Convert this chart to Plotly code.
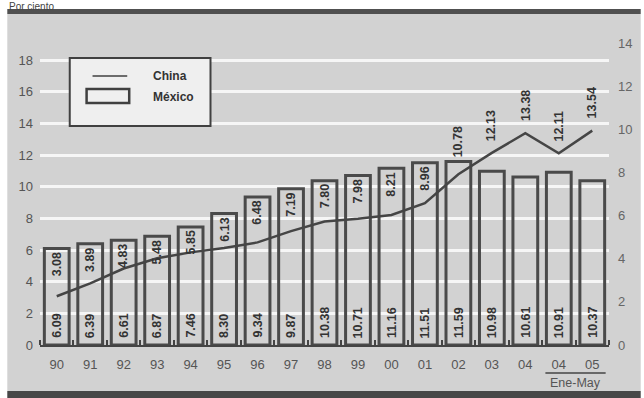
import plotly.graph_objects as go

# ---- data ----
years = ["90", "91", "92", "93", "94", "95", "96", "97", "98", "99",
         "00", "01", "02", "03", "04", "04", "05"]
mexico = [6.09, 6.39, 6.61, 6.87, 7.46, 8.30, 9.34, 9.87, 10.38, 10.71,
          11.16, 11.51, 11.59, 10.98, 10.61, 10.91, 10.37]
china = [3.08, 3.89, 4.83, 5.48, 5.85, 6.13, 6.48, 7.19, 7.80, 7.98,
         8.21, 8.96, 10.78, 12.13, 13.38, 12.11, 13.54]
left_ticks = [0, 2, 4, 6, 8, 10, 12, 14, 16, 18]
right_ticks = [0, 2, 4, 6, 8, 10, 12, 14]
period_label = "Ene-May"

W, H = 644, 398
L, R, T, B = 40, 30, 43, 53
PW, PH = W - L - R, H - T - B


def px(x):
    return (x - L) / PW


def py(y):
    return (H - B - y) / PH


NARROW = "Liberation Sans Narrow, Arial Narrow, Liberation Sans, Arial, sans-serif"
BOLD = "Liberation Sans, Arial, sans-serif"
BG = "#d2d2d2"
DARK = "#474747"

xs = list(range(len(years)))
boundaries = [i - 0.5 for i in range(len(years) + 1)]

fig = go.Figure()
fig.add_trace(go.Bar(
    x=xs, y=mexico, width=0.74,
    marker=dict(color="rgba(0,0,0,0)", line=dict(color="#4a4a4a", width=3)),
    showlegend=False, hoverinfo="skip"))
fig.add_trace(go.Scatter(
    x=xs, y=china, mode="lines",
    line=dict(color="#454545", width=2.5),
    showlegend=False, hoverinfo="skip"))
# invisible trace to activate right axis
fig.add_trace(go.Scatter(x=[0], y=[0], yaxis="y2", mode="markers",
                         marker=dict(opacity=0), showlegend=False,
                         hoverinfo="skip"))

annotations = []
shapes = []

# value labels
for i, (m, c) in enumerate(zip(mexico, china)):
    annotations.append(dict(
        x=i, y=0, xref="x", yref="y", text="<b>%.2f</b>" % m,
        textangle=-90, showarrow=False, yanchor="bottom", yshift=5,
        font=dict(family=BOLD, size=12.5, color="#333333")))
    if c > m:
        ya, yv, ys = "bottom", c, 10
    elif m - c < 1.0:
        ya, yv, ys = "bottom", m, 2
    else:
        ya, yv, ys = "top", m, -2
    annotations.append(dict(
        x=i, y=yv, xref="x", yref="y", text="<b>%.2f</b>" % c,
        textangle=-90, showarrow=False, yanchor=ya, yshift=ys,
        font=dict(family=BOLD, size=12.5, color="#333333")))

# background panels
shapes.append(dict(type="rect", xref="paper", yref="paper", layer="below",
                   x0=px(7), x1=px(W + 2), y0=py(14), y1=py(391),
                   fillcolor=BG, line=dict(width=0)))
shapes.append(dict(type="rect", xref="paper", yref="paper", layer="below",
                   x0=px(7), x1=px(W + 2), y0=py(9), y1=py(14),
                   fillcolor="#505050", line=dict(width=0)))
shapes.append(dict(type="rect", xref="paper", yref="paper", layer="below",
                   x0=px(7), x1=px(W + 2), y0=py(391), y1=py(H + 2),
                   fillcolor=DARK, line=dict(width=0)))

# legend box
shapes.append(dict(type="rect", xref="paper", yref="paper",
                   x0=px(70), x1=px(212), y0=py(58), y1=py(126),
                   fillcolor="#efefef", line=dict(color="#404040", width=2)))
shapes.append(dict(type="line", xref="paper", yref="paper",
                   x0=px(93), x1=px(128), y0=py(76), y1=py(76),
                   line=dict(color="#404040", width=1.5)))
shapes.append(dict(type="rect", xref="paper", yref="paper",
                   x0=px(87), x1=px(130), y0=py(89), y1=py(103),
                   fillcolor="rgba(0,0,0,0)", line=dict(color="#404040", width=2.5)))
annotations.append(dict(x=px(152), y=py(76), xref="paper", yref="paper",
                        text="<b>China</b>", showarrow=False, xanchor="left",
                        yanchor="middle",
                        font=dict(family=BOLD, size=12, color="#333333")))
annotations.append(dict(x=px(152), y=py(97), xref="paper", yref="paper",
                        text="<b>México</b>", showarrow=False, xanchor="left",
                        yanchor="middle",
                        font=dict(family=BOLD, size=12, color="#333333")))

# Ene-May bracket
shapes.append(dict(type="line", xref="x", yref="paper",
                   x0=len(years) - 2.4, x1=len(years) - 0.6,
                   y0=py(373), y1=py(373),
                   line=dict(color="#444444", width=1.5)))
annotations.append(dict(x=len(years) - 1.5, y=py(383), xref="x", yref="paper",
                        text=period_label, showarrow=False, yanchor="middle",
                        font=dict(family=NARROW, size=12.5, color="#555555")))

# header
annotations.append(dict(x=px(7), y=py(-1), xref="paper", yref="paper",
                        text="Por ciento", showarrow=False, xanchor="left",
                        yanchor="top", font=dict(family=NARROW, size=10,
                                                 color="#444444")))

fig.update_layout(
    width=W, height=H,
    margin=dict(l=L, r=R, t=T, b=B, pad=0),
    paper_bgcolor="white", plot_bgcolor="rgba(0,0,0,0)",
    xaxis=dict(range=[-0.5, len(years) - 0.5], tickmode="array",
               tickvals=xs, ticktext=years, ticks="",
               minor=dict(tickmode="array", tickvals=boundaries,
                          ticks="inside", ticklen=5, tickwidth=1.5,
                          tickcolor="#444444", showgrid=False),
               showline=True, linecolor="#444444", linewidth=2,
               showgrid=False, zeroline=False,
               tickfont=dict(family=NARROW, size=13, color="#555555"),
               ticklabelstandoff=6),
    yaxis=dict(range=[0, PH / (285 / 18)], tickmode="array",
               tickvals=left_ticks, showgrid=True,
               gridcolor="rgba(255,255,255,0.8)", gridwidth=2.5,
               zeroline=False, showline=False, ticks="",
               tickfont=dict(family=NARROW, size=13, color="#555555"),
               ticklabelstandoff=6),
    yaxis2=dict(range=[0, 14], overlaying="y", side="right",
                tickmode="array", tickvals=right_ticks, showgrid=False,
                zeroline=False, showline=False, ticks="",
                tickfont=dict(family=NARROW, size=13, color="#666666"),
                ticklabelstandoff=8),
    annotations=annotations, shapes=shapes,
)

fig.write_html("out.html")
